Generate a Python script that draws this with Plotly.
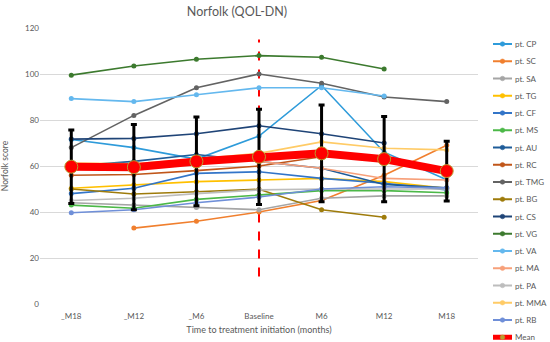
import plotly.graph_objects as go

categories = ["_M18", "_M12", "_M6", "Baseline", "M6", "M12", "M18"]
y_ticks = [0, 20, 40, 60, 80, 100, 120]

pt_CP = [71.5, 68, 63, 73, 95, 66, 54]
pt_SC = [None, 33, 36, 40, 45, 56, 69]
pt_SA = [44, 43, 42, 41, 46, 47, 47]
pt_TG = [50.3, 51.8, 53.2, 53.9, 54.6, 53.2, 50.3]
pt_CF = [48, 50.3, 56.8, 57.5, 54.6, 52.5, 49.6]
pt_MS = [43, 41.6, 45.5, 47.4, 49.3, 49.3, 48.4]
pt_AU = [60, 62, 65, 62, 59, 52, 50.5]
pt_RC = [56, 56.3, 58, 60, 64, None, None]
pt_TMG = [68, 82, 94, 100, 96, 90, 88]
pt_BG = [50, 47.8, 48.8, 49.9, 41, 37.7, None]
pt_CS = [71.7, 72, 74, 77.5, 74, 70, None]
pt_VG = [99.5, 103.5, 106.4, 108, 107.3, 102.2, None]
pt_VA = [89.3, 88, 91, 94, 94, 90.4, None]
pt_MA = [None, None, None, 62, 59, 54.6, 53.9]
pt_PA = [45, 46, 48, 49.6, 50, 50, 50]
pt_MMA = [61.3, 61, 63, 65.5, 70.5, 67.7, 67]
pt_RB = [39.7, 41, 44, 46.5, 50, 51, 50.5]
mean_vals = [59.7, 59.5, 62, 64, 65.5, 63, 57.8]
mean_sd = [16, 18.5, 19.3, 20.7, 21, 18.5, 13]
baseline_line_y = [12, 115]

series = [
    ("pt. CP", pt_CP, "#2E9BDA"),
    ("pt. SC", pt_SC, "#F07F2E"),
    ("pt. SA", pt_SA, "#A5A5A5"),
    ("pt. TG", pt_TG, "#FFC000"),
    ("pt. CF", pt_CF, "#3375C8"),
    ("pt. MS", pt_MS, "#4CB848"),
    ("pt. AU", pt_AU, "#1F5C99"),
    ("pt. RC", pt_RC, "#C0561A"),
    ("pt. TMG", pt_TMG, "#636363"),
    ("pt. BG", pt_BG, "#9E7B0B"),
    ("pt. CS", pt_CS, "#1F4477"),
    ("pt. VG", pt_VG, "#3C7A2E"),
    ("pt. VA", pt_VA, "#64B8EE"),
    ("pt. MA", pt_MA, "#F7A07A"),
    ("pt. PA", pt_PA, "#BDBDBD"),
    ("pt. MMA", pt_MMA, "#FFCB66"),
    ("pt. RB", pt_RB, "#6F8FD8"),
]
MEAN_COLOR = "#FF0000"
MEAN_EDGE = "#B8A030"

W, H = 550, 342
ML, MR, MT, MB = 40, 72, 28, 38
PW, PH = W - ML - MR, H - MT - MB

def px_x(px):
    return (px - ML) / PW

def px_y(py):
    return (H - MB - py) / PH

fig = go.Figure()

fig.add_trace(go.Scatter(
    x=["Baseline", "Baseline"], y=baseline_line_y, mode="lines",
    line=dict(color=MEAN_COLOR, width=2, dash="dash"),
    showlegend=False, hoverinfo="skip"))

for name, vals, color in series:
    fig.add_trace(go.Scatter(
        x=categories, y=vals, name=name, mode="lines+markers",
        line=dict(color=color, width=1.6),
        marker=dict(color=color, size=5, symbol="circle"),
        connectgaps=False, showlegend=False))

fig.add_trace(go.Scatter(
    x=categories, y=mean_vals, name="Mean", mode="lines+markers",
    line=dict(color=MEAN_COLOR, width=8),
    marker=dict(color=MEAN_COLOR, size=13, line=dict(color=MEAN_EDGE, width=1)),
    error_y=dict(type="data", array=mean_sd, visible=True,
                 color="black", thickness=3, width=3),
    showlegend=False))

# Manual legend (native legend cannot fit 17 entries this tightly)
legend_entries = [(n, c) for n, _, c in series] + [("Mean", MEAN_COLOR)]
shapes, annotations = [], []
leg_top, leg_step = 44, 17.25
sym_x0, sym_x1, text_x = 493, 512, 513
for i, (name, color) in enumerate(legend_entries):
    py = leg_top + i * leg_step
    is_mean = name == "Mean"
    shapes.append(dict(type="line", xref="paper", yref="paper",
                       x0=px_x(sym_x0), x1=px_x(sym_x1), y0=px_y(py), y1=px_y(py),
                       line=dict(color=color, width=5 if is_mean else 2)))
    cx, r = (sym_x0 + sym_x1) / 2, 2.3
    shapes.append(dict(type="circle", xref="paper", yref="paper",
                       x0=px_x(cx - r), x1=px_x(cx + r), y0=px_y(py + r), y1=px_y(py - r),
                       fillcolor=MEAN_EDGE if is_mean else color,
                       line=dict(color=MEAN_EDGE if is_mean else color, width=0.5)))
    annotations.append(dict(xref="paper", yref="paper", x=px_x(text_x), y=px_y(py),
                            xanchor="left", yanchor="middle", showarrow=False,
                            text=name, font=dict(size=8, color="#595959")))

font_family = "Lato, 'Open Sans', sans-serif"
fig.update_layout(
    width=W, height=H,
    margin=dict(l=ML, r=MR, t=MT, b=MB),
    paper_bgcolor="white", plot_bgcolor="white",
    font=dict(family=font_family, color="#595959", size=8),
    title=dict(text="Norfolk (QOL-DN)", x=237 / W, xanchor="center",
               y=1 - 12 / H, yanchor="middle",
               font=dict(size=12.5, color="#595959", family=font_family)),
    xaxis=dict(type="category", categoryorder="array", categoryarray=categories,
               range=[-0.5, 6.5], showgrid=False, showline=False, zeroline=False,
               ticks="", tickfont=dict(size=8, color="#595959"), automargin=False,
               ticklabelstandoff=6,
               title=dict(text="Time to treatment initiation (months)",
                          font=dict(size=9, color="#595959"), standoff=6)),
    yaxis=dict(range=[0, 120], tickvals=y_ticks, showgrid=True,
               gridcolor="#D9D9D9", gridwidth=1, zeroline=False, showline=False,
               ticks="", tickfont=dict(size=8, color="#595959"), automargin=False,
               title=dict(text="Norfolk score", font=dict(size=8.5, color="#595959"))),
    shapes=shapes,
    annotations=annotations,
    showlegend=False,
)

fig.write_html("out.html",
               config={"displayModeBar": False},
               post_script="document.body.style.margin='0';document.body.style.overflow='hidden';")
